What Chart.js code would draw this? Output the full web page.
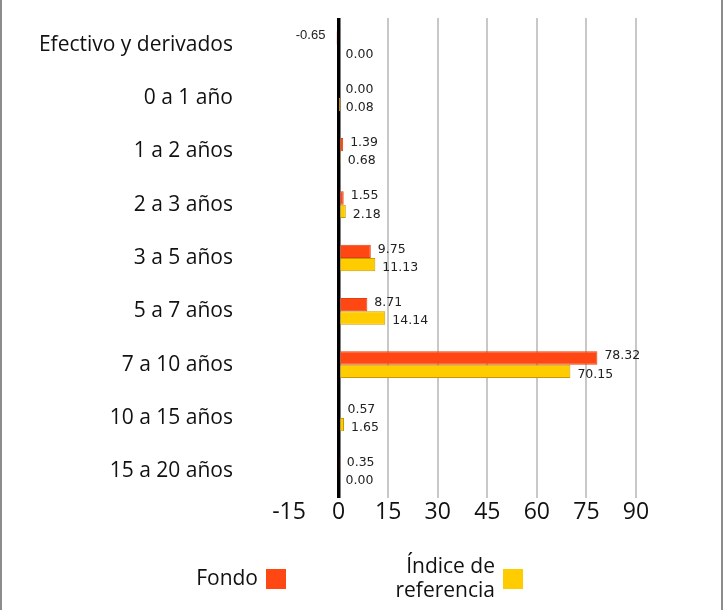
<!DOCTYPE html>
<html lang="es">
<head>
<meta charset="utf-8">
<title>Duración</title>
<script src="https://cdn.jsdelivr.net/npm/chart.js@4"></script>
<style>
  html, body { margin: 0; padding: 0; background: #fff; }
  #wrap { width: 724px; height: 610px; position: relative; }
</style>
</head>
<body>
<div id="wrap"><canvas id="chartDur"></canvas></div>
<script>
const categorias = [
    "Efectivo y derivados", "0 a 1 año", "1 a 2 años", "2 a 3 años", "3 a 5 años",
    "5 a 7 años", "7 a 10 años", "10 a 15 años", "15 a 20 años"
];
const fondo = [-0.65, 0.00, 1.39, 1.55, 9.75, 8.71, 78.32, 0.57, 0.35];
const indice = [0.00, 0.08, 0.68, 2.18, 11.13, 14.14, 70.15, 1.65, 0.00];
const etiquetasSeries = ["Fondo", "Índice de referencia"];
const leyendaLineas = [["Fondo"], ["Índice de", "referencia"]];

const NARANJA = "#ff4714";
const AMARILLO = "#ffcc00";
const FUENTE = '"Open Sans"';

// marco gris a los lados
const marco = {
    id: "marco",
    beforeDraw(chart) {
        const ctx = chart.ctx;
        ctx.save();
        ctx.fillStyle = "#fff";
        ctx.fillRect(0, 0, chart.width, chart.height);
        ctx.strokeStyle = "#8c8c8c";
        ctx.lineWidth = 2;
        ctx.beginPath();
        ctx.moveTo(1, 0); ctx.lineTo(1, chart.height);
        ctx.moveTo(chart.width - 2, 0); ctx.lineTo(chart.width - 2, chart.height);
        ctx.stroke();
        ctx.restore();
    }
};

// valores al final de cada barra
const valores = {
    id: "valores",
    afterDatasetsDraw(chart) {
        const ctx = chart.ctx;
        const cero = chart.scales.x.getPixelForValue(0);
        ctx.save();
        ctx.fillStyle = "#222";
        ctx.textBaseline = "middle";
        chart.data.datasets.forEach((ds, i) => {
            const meta = chart.getDatasetMeta(i);
            meta.data.forEach((barra, j) => {
                const v = ds.data[j];
                const dy = i === 0 ? -2 : 3;
                if (v < 0) {
                    ctx.font = '13px "Liberation Sans"';
                    ctx.textAlign = "right";
                    ctx.fillText(v.toFixed(2), barra.x - 11, barra.y - 3);
                } else {
                    ctx.font = '12.5px "DejaVu Sans"';
                    ctx.textAlign = "left";
                    ctx.fillText(v.toFixed(2), Math.max(barra.x, cero) + 7, barra.y + dy);
                }
            });
        });
        ctx.restore();
    }
};

// leyenda con el cuadro a la derecha del texto
const leyenda = {
    id: "leyenda",
    afterDraw(chart) {
        const ctx = chart.ctx;
        const cajaX = [266, 503];
        const cajaY = 569, lado = 20;
        ctx.save();
        ctx.font = '21px ' + FUENTE;
        ctx.textAlign = "right";
        ctx.textBaseline = "middle";
        chart.data.datasets.forEach((ds, i) => {
            ctx.fillStyle = ds.backgroundColor;
            ctx.fillRect(cajaX[i], cajaY, lado, lado);
            ctx.fillStyle = "#111";
            const lineas = leyendaLineas[i];
            const alto = 24;
            const y0 = cajaY + lado / 2 - (lineas.length - 1) * alto / 2;
            lineas.forEach((t, k) => ctx.fillText(t, cajaX[i] - 8, y0 + k * alto));
        });
        ctx.restore();
    }
};

new Chart(document.getElementById("chartDur"), {
    type: "bar",
    data: {
        labels: categorias,
        datasets: [{
            label: etiquetasSeries[0],
            data: fondo,
            backgroundColor: NARANJA,
            borderColor: "#e0400f",
            borderWidth: 1
        }, {
            label: etiquetasSeries[1],
            data: indice,
            backgroundColor: AMARILLO,
            borderColor: "#c99a00",
            borderWidth: 1
        }]
    },
    options: {
        indexAxis: "y",
        responsive: true,
        maintainAspectRatio: false,
        animation: false,
        categoryPercentage: 0.5,
        barPercentage: 1.0,
        layout: { padding: { top: 18, right: 88, bottom: 80, left: 0 } },
        plugins: {
            legend: { display: false },
            tooltip: { enabled: false }
        },
        scales: {
            x: {
                min: -15,
                max: 90,
                border: { display: false },
                grid: {
                    drawTicks: false,
                    color: c => c.tick.value === 0 ? "#000" : (c.tick.value < 0 ? "rgba(0,0,0,0)" : "#c8c8c8"),
                    lineWidth: c => c.tick.value === 0 ? 3.5 : 2
                },
                ticks: {
                    stepSize: 15,
                    padding: 1,
                    color: "#111",
                    font: { family: FUENTE, size: 23 }
                },
                afterFit: s => { s.height = 32; }
            },
            y: {
                border: { display: false },
                grid: { display: false, drawTicks: false },
                ticks: {
                    padding: 56,
                    color: "#111",
                    font: { family: FUENTE, size: 21 }
                },
                afterFit: s => {
                    s.width = 289;
                    s.paddingTop = 0;
                    s.paddingBottom = 0;
                }
            }
        }
    },
    plugins: [marco, valores, leyenda]
});
</script>
</body>
</html>
